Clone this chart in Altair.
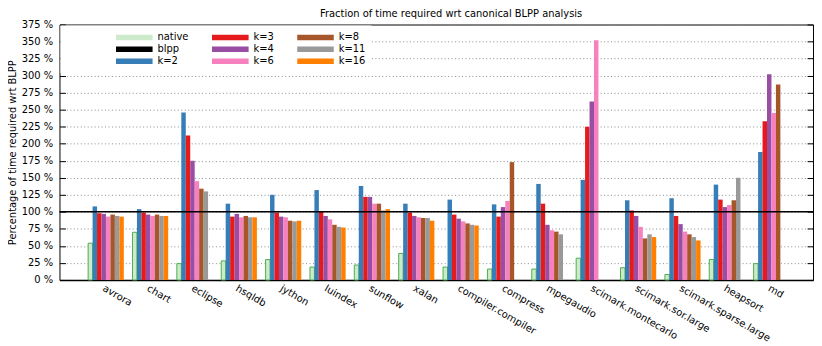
import altair as alt
import pandas as pd

FONT = "DejaVu Sans"

benchmarks = ["avrora", "chart", "eclipse", "hsqldb", "jython", "luindex", "sunflow", "xalan",
              "compiler.compiler", "compress", "mpegaudio", "scimark.montecarlo",
              "scimark.sor.large", "scimark.sparse.large", "heapsort", "md"]

native = [54, 70, 24, 28, 30, 19, 22, 39, 19, 16, 16, 32, 18, 8, 30, 24]
k2 = [108, 104, 246, 112, 125, 132, 138, 112, 118, 111, 141, 147, 117, 120, 140, 188]
k3 = [98, 99, 212, 93, 99, 101, 122, 99, 96, 93, 112, 225, 102, 94, 118, 233]
k4 = [97, 96, 175, 97, 93, 94, 122, 94, 90, 107, 81, 262, 94, 82, 107, 302]
k6 = [93, 94, 145, 92, 92, 89, 112, 92, 86, 116, 73, 352, 78, 71, 110, 245]
k8 = [96, 96, 134, 94, 87, 81, 112, 91, 83, 173, 71, None, 61, 67, 117, 287]
k11 = [94, 94, 130, 92, 86, 78, 102, 91, 81, None, 67, None, 67, 63, 150, None]
k16 = [93, 94, None, 92, 87, 77, 104, 87, 80, None, None, None, 63, 58, None, None]
blpp_level = [100]

series_names = ["native", "k=2", "k=3", "k=4", "k=6", "k=8", "k=11", "k=16"]
series_values = [native, k2, k3, k4, k6, k8, k11, k16]

# legend entries (filled column by column, 3 rows each) and their colours
legend_order = ["native", "blpp", "k=2", "k=3", "k=4", "k=6", "k=8", "k=11", "k=16"]
legend_colors = ["#cdeacb", "#000000", "#377eb8", "#e41a1c", "#984ea3", "#f781bf",
                 "#a65628", "#999999", "#ff7f00"]

y_ticks = list(range(0, 376, 25))
title_text = "Fraction of time required wrt canonical BLPP analysis"
y_title = "Percentage of time required wrt BLPP"

rows = []
for name, vals in zip(series_names, series_values):
    for b, v in zip(benchmarks, vals):
        if v is not None:
            rows.append({"benchmark": b, "series": name, "value": v})
df = pd.DataFrame(rows)
rule_df = pd.DataFrame({"level": blpp_level})

y_scale = alt.Scale(domain=[0, 375], nice=False, zero=True)

x_enc = alt.X(
    "benchmark:N", sort=benchmarks, title=None,
    scale=alt.Scale(domain=benchmarks, paddingInner=0.196, paddingOuter=0.59, align=0.547),
    axis=alt.Axis(labelAngle=30, labelAlign="left", labelBaseline="top", labelPadding=3,
                  labelOffset=0, ticks=False, domain=True, domainColor="black", domainWidth=1.5,
                  labelFont=FONT, labelFontSize=10, labelColor="black", labelLimit=300,
                  labelOverlap=False, labelBound=False, grid=False),
)

bars = alt.Chart(df).mark_bar(strokeWidth=1).encode(
    x=x_enc,
    xOffset=alt.XOffset("series:N", sort=series_names,
                        scale=alt.Scale(domain=series_names, paddingInner=0, paddingOuter=0)),
    y=alt.Y("value:Q", scale=y_scale,
            axis=alt.Axis(values=y_ticks, labelExpr="datum.value + ' %'", grid=True,
                          gridColor="#8c8c8c", gridDash=[1, 2.5], gridWidth=1,
                          ticks=False, domain=False, labelPadding=7,
                          labelFont=FONT, labelFontSize=10, labelColor="black",
                          title=y_title, titleFont=FONT, titleFontSize=10,
                          titleFontWeight="normal", titleColor="black", titlePadding=4)),
    color=alt.Color("series:N",
                    scale=alt.Scale(domain=legend_order, range=legend_colors),
                    legend=alt.Legend(title=" ", titleOrient="left", titlePadding=50,
                                      orient="none", legendX=1, legendY=1,
                                      columns=3, direction="vertical",
                                      symbolType="M-1,-0.15H1V0.15H-1Z", symbolSize=1369,
                                      symbolStrokeWidth=0, symbolOpacity=1,
                                      clipHeight=12, rowPadding=0, columnPadding=23,
                                      labelFont=FONT, labelFontSize=10, labelColor="black",
                                      labelOffset=5, fillColor="white", padding=6)),
    stroke=alt.condition(alt.datum.series == "native", alt.value("#4daf4a"), alt.value("transparent")),
)

blpp_rule = alt.Chart(rule_df).mark_rule(strokeWidth=1.5).encode(
    y=alt.Y("level:Q", scale=y_scale,
            axis=alt.Axis(orient="left", offset=-6, values=y_ticks, labels=False, ticks=True,
                          tickSize=6, tickColor="black", tickWidth=1, domain=False,
                          grid=False, title=None)),
    color=alt.datum("blpp"),
)

right_ticks = alt.Chart(rule_df).mark_rule(strokeOpacity=0).encode(
    y=alt.Y("level:Q", scale=y_scale,
            axis=alt.Axis(orient="right", offset=-6, values=y_ticks, labels=False, ticks=True,
                          tickSize=6, tickColor="black", tickWidth=1, domain=False,
                          grid=False, title=None)),
)

chart = alt.layer(bars, blpp_rule, right_ticks).resolve_axis(y="independent").properties(
    width=761, height=258,
    padding={"left": 52, "top": 15, "right": 1, "bottom": 65},
    autosize=alt.AutoSizeParams(type="none"),
    title=alt.TitleParams(title_text, font=FONT, fontSize=10, fontWeight="normal",
                          color="black", anchor="middle", dx=15, offset=1),
).configure_view(stroke="black", strokeWidth=1)

chart.save("out.html", embed_options={"renderer": "svg", "actions": False})
